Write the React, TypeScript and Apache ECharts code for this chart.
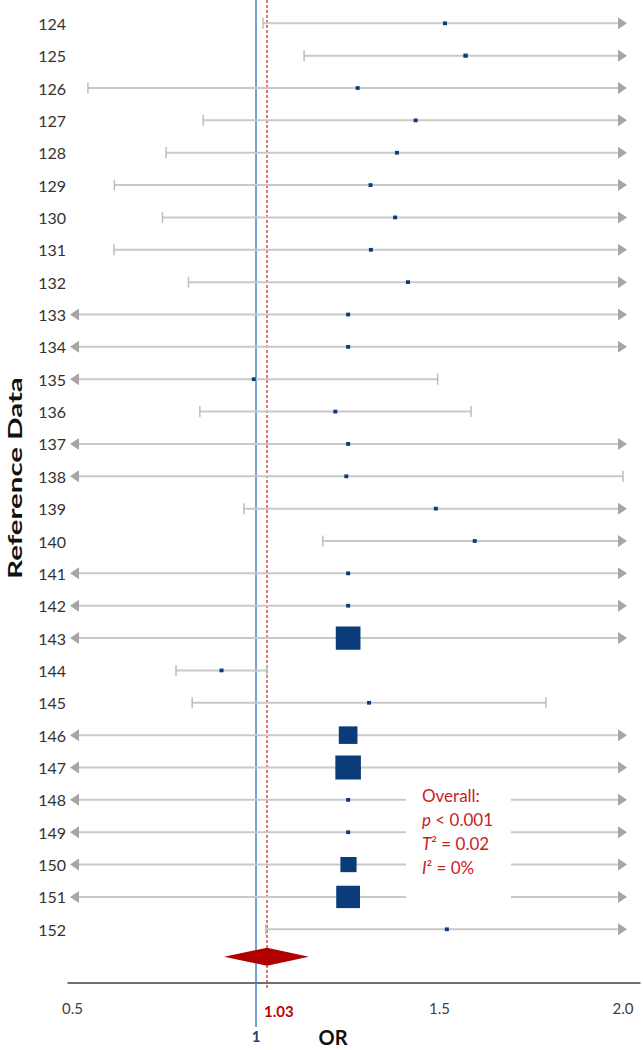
import React, { useEffect, useRef } from "react";
import * as echarts from "echarts";

// ---- Data ----
const studies = [
  "124", "125", "126", "127", "128", "129", "130", "131", "132", "133",
  "134", "135", "136", "137", "138", "139", "140", "141", "142", "143",
  "144", "145", "146", "147", "148", "149", "150", "151", "152",
];
// odds ratio point estimates
const estimates = [
  1.515, 1.571, 1.277, 1.435, 1.384, 1.312, 1.379, 1.313, 1.414, 1.251,
  1.251, 0.994, 1.216, 1.251, 1.246, 1.49, 1.596, 1.251, 1.251, 1.251,
  0.906, 1.308, 1.251, 1.251, 1.251, 1.251, 1.252, 1.251, 1.52,
];
// lower CI (null = beyond the plotted range, drawn as an arrow)
const lowerCI: (number | null)[] = [
  1.019, 1.131, 0.542, 0.856, 0.755, 0.614, 0.745, 0.613, 0.816, null,
  null, null, 0.847, null, null, 0.967, 1.182, null, null, null,
  0.782, 0.826, null, null, null, null, null, null, 1.027,
];
// upper CI (null = beyond the plotted range, drawn as an arrow)
const upperCI: (number | null)[] = [
  null, null, null, null, null, null, null, null, null, null,
  null, 1.495, 1.586, null, 2.0, null, null, null, null, null,
  1.029, 1.79, null, null, null, null, null, null, null,
];
// study weights (%)
const weights = [
  0.35, 0.45, 0.35, 0.35, 0.35, 0.35, 0.35, 0.35, 0.35, 0.35,
  0.35, 0.35, 0.35, 0.35, 0.35, 0.3, 0.3, 0.35, 0.35, 14,
  0.3, 0.3, 8, 15, 0.35, 0.3, 6, 13, 0.3,
];
// pooled estimate [lower, estimate, upper]
const pooled = [0.913, 1.03, 1.144];
const nullValue = 1;
const xTickValues = [0.5, 1.5, 2.0];
const statsLines = ["Overall:", "{i|p} < 0.001", "{i|T}² = 0.02", "{i|I}² = 0%"];

// ---- Layout constants ----
const X_MIN = 0.4877;
const X_MAX = 2.0463;
const Y_MIN = -0.72;
const Y_MAX = 29.66;
const POOLED_ROW = 28.85;
const FONT = "Lato, 'Open Sans', sans-serif";

export default function App() {
  const ref = useRef<HTMLDivElement>(null);

  useEffect(() => {
    if (!ref.current) return;
    const chart = echarts.init(ref.current, null, { renderer: "svg" });

    const rowSeries = {
      type: "custom",
      clip: false,
      data: studies.map((_, i) => [estimates[i], i]),
      renderItem: (params: any, api: any) => {
        const i = params.dataIndex;
        const y = api.coord([1, i])[1];
        const children: any[] = [];
        const lo = lowerCI[i];
        const hi = upperCI[i];
        let xl: number;
        let xr: number;
        if (lo == null) {
          const tip = api.coord([0.5, i])[0] - 2.5;
          xl = tip + 9;
          children.push({
            type: "polygon",
            shape: { points: [[tip, y], [tip + 9, y - 6], [tip + 9, y + 6]] },
            style: { fill: "#a6a6a6" },
          });
        } else {
          xl = api.coord([lo, i])[0];
          children.push({
            type: "line",
            shape: { x1: xl, y1: y - 5.5, x2: xl, y2: y + 5.5 },
            style: { stroke: "#bdbdbd", lineWidth: 1.5 },
          });
        }
        if (hi == null) {
          const tip = api.coord([2.0, i])[0] + 4;
          xr = tip - 9;
          children.push({
            type: "polygon",
            shape: { points: [[tip, y], [tip - 9, y - 6], [tip - 9, y + 6]] },
            style: { fill: "#a6a6a6" },
          });
        } else {
          xr = api.coord([hi, i])[0];
          children.push({
            type: "line",
            shape: { x1: xr, y1: y - 5.5, x2: xr, y2: y + 5.5 },
            style: { stroke: "#bdbdbd", lineWidth: 1.5 },
          });
        }
        children.unshift({
          type: "line",
          shape: { x1: xl, y1: y, x2: xr, y2: y },
          style: { stroke: "#c9c9c9", lineWidth: 2 },
        });
        const xe = api.coord([estimates[i], i])[0];
        const s = Math.max(4, Math.sqrt(weights[i]) * 6.6);
        children.push({
          type: "rect",
          shape: { x: xe - s / 2, y: y - (s * 0.94) / 2, width: s, height: s * 0.94 },
          style: { fill: "#0b3b78" },
        });
        return { type: "group", children };
      },
      z: 3,
    };

    const pooledSeries = {
      type: "custom",
      clip: false,
      data: [[pooled[1], POOLED_ROW]],
      renderItem: (_p: any, api: any) => {
        const y = api.coord([1, POOLED_ROW])[1];
        const xl = api.coord([pooled[0], POOLED_ROW])[0];
        const xc = api.coord([pooled[1], POOLED_ROW])[0];
        const xr = api.coord([pooled[2], POOLED_ROW])[0];
        return {
          type: "polygon",
          shape: { points: [[xl, y], [xc, y - 9], [xr, y], [xc, y + 9]] },
          style: { fill: "#b00000" },
        };
      },
      z: 4,
    };

    const refSeries = {
      type: "custom",
      clip: false,
      data: [[nullValue, 0]],
      renderItem: (_p: any, api: any) => {
        const top = api.coord([nullValue, Y_MIN])[1];
        const bottom = api.coord([nullValue, Y_MAX])[1];
        const x1 = api.coord([nullValue, 0])[0];
        const x2 = api.coord([pooled[1], 0])[0];
        return {
          type: "group",
          children: [
            {
              type: "line",
              shape: { x1, y1: top, x2: x1, y2: bottom + 44 },
              style: { stroke: "#4f7fbf", lineWidth: 1.5 },
            },
            {
              type: "line",
              shape: { x1: x2, y1: top, x2, y2: bottom + 7 },
              style: { stroke: "#e0454f", lineWidth: 1.5, lineDash: [3, 2] },
            },
            {
              type: "text",
              style: {
                text: String(nullValue),
                x: x1,
                y: bottom + 53,
                align: "center",
                verticalAlign: "middle",
                fill: "#1f3d7a",
                font: `bold 15px ${FONT}`,
              },
            },
            {
              type: "text",
              style: {
                text: pooled[1].toFixed(2),
                x: x2 - 3,
                y: bottom + 28,
                align: "left",
                verticalAlign: "middle",
                fill: "#c00000",
                font: `bold 15px ${FONT}`,
              },
            },
          ],
        };
      },
      z: 2,
    };

    chart.setOption({
      animation: false,
      backgroundColor: "#ffffff",
      grid: {
        left: 68,
        right: 3,
        top: 0,
        bottom: 67,
        containLabel: false,
        outerBoundsMode: "none",
      },
      xAxis: {
        type: "value",
        position: "bottom",
        min: X_MIN,
        max: X_MAX,
        splitLine: { show: false },
        axisTick: { show: false },
        axisLine: { show: true, onZero: false, lineStyle: { color: "#404040", width: 1.5 } },
        axisLabel: {
          customValues: xTickValues,
          formatter: (v: number) => v.toFixed(1),
          margin: 17,
          fontSize: 15,
          fontFamily: FONT,
          color: "#404040",
        },
      },
      yAxis: {
        type: "value",
        inverse: true,
        min: Y_MIN,
        max: Y_MAX,
        splitLine: { show: false },
        axisTick: { show: false },
        axisLine: { show: false },
        axisLabel: {
          customValues: studies.map((_, i) => i),
          formatter: (v: number) => studies[Math.round(v)] ?? "",
          margin: 2,
          fontSize: 16,
          fontFamily: FONT,
          color: "#333333",
        },
      },
      graphic: [
        {
          type: "text",
          x: 15,
          y: 478,
          rotation: Math.PI / 2,
          scaleX: 1.55,
          z: 100,
          style: {
            text: "Reference Data",
            align: "center",
            verticalAlign: "middle",
            fill: "#111111",
            font: `bold 19px ${FONT}`,
          },
        },
        {
          type: "text",
          x: 333,
          y: 1037,
          z: 100,
          style: {
            text: "OR",
            align: "center",
            verticalAlign: "middle",
            fill: "#111111",
            font: `bold 20px ${FONT}`,
          },
        },
        {
          type: "rect",
          z: 100,
          shape: { x: 406, y: 782, width: 105, height: 123 },
          style: { fill: "#ffffff" },
        },
        {
          type: "text",
          x: 422,
          y: 783,
          z: 101,
          style: {
            text: statsLines.join("\n"),
            align: "left",
            verticalAlign: "top",
            fill: "#c9211e",
            fontSize: 17,
            fontFamily: FONT,
            lineHeight: 24,
            rich: {
              i: {
                fontStyle: "italic",
                fontSize: 17,
                fontFamily: FONT,
                fill: "#c9211e",
                lineHeight: 24,
              },
            },
          },
        },
      ],
      series: [refSeries, rowSeries, pooledSeries],
    });

    return () => chart.dispose();
  }, []);

  return (
    <div
      ref={ref}
      style={{ width: 643, height: 1050, position: "absolute", left: 0, top: 0 }}
    />
  );
}
